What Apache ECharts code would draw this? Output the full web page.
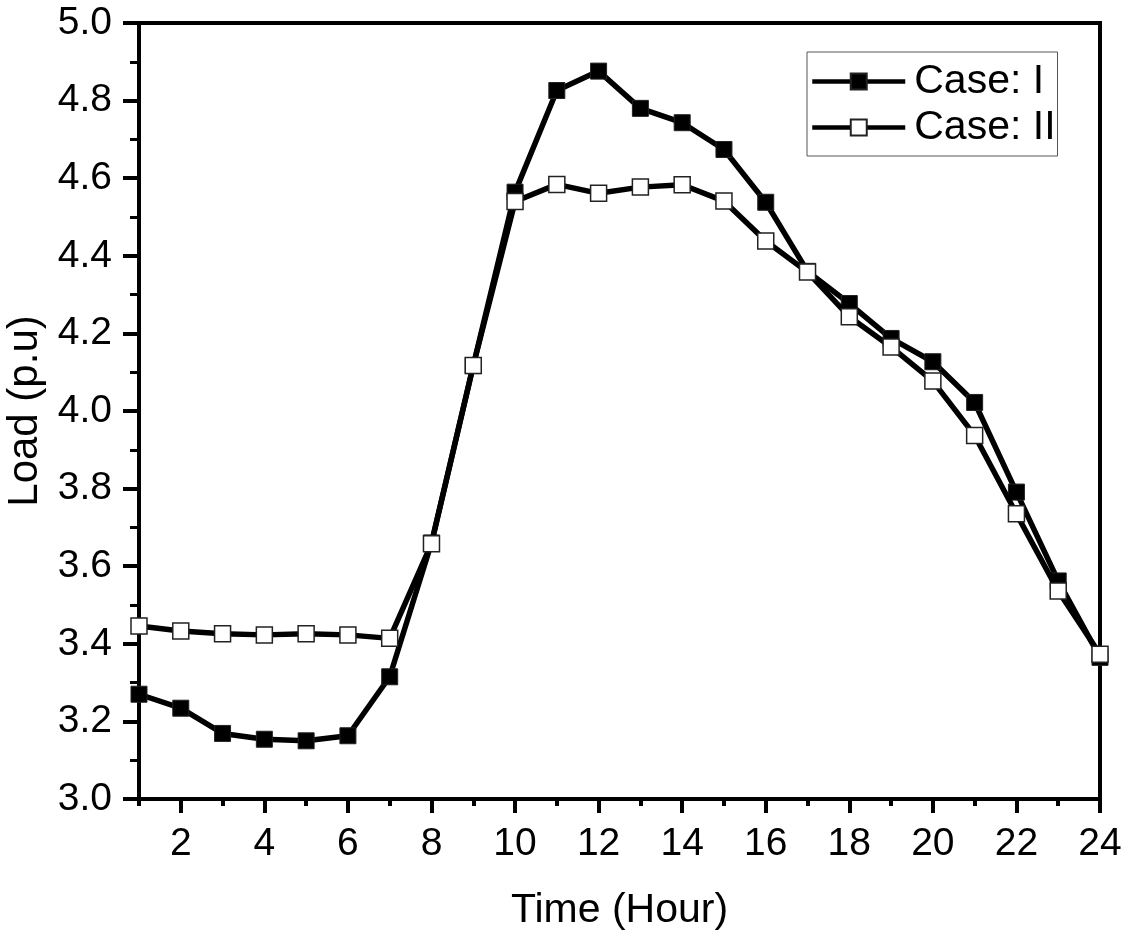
<!DOCTYPE html>
<html>
<head>
<meta charset="utf-8">
<script src="https://cdn.jsdelivr.net/npm/echarts@6/dist/echarts.min.js"></script>
<style>
html,body{margin:0;padding:0;background:#fff;}
#chart{width:1129px;height:931px;}
</style>
</head>
<body>
<div id="chart"></div>
<script>
const hours = [1,2,3,4,5,6,7,8,9,10,11,12,13,14,15,16,17,18,19,20,21,22,23,24];
const caseI = [3.270,3.234,3.169,3.154,3.150,3.163,3.315,3.660,4.117,4.564,4.826,4.876,4.780,4.743,4.674,4.538,4.360,4.277,4.187,4.127,4.022,3.791,3.562,3.365];
const caseII = [3.446,3.433,3.426,3.423,3.426,3.423,3.414,3.658,4.117,4.540,4.584,4.561,4.577,4.583,4.541,4.438,4.358,4.243,4.165,4.077,3.937,3.735,3.536,3.373];
const xMajorTicks = [2,4,6,8,10,12,14,16,18,20,22,24];
const seriesNames = ['Case: I','Case: II'];
const xTitle = 'Time (Hour)';
const yTitle = 'Load (p.u)';

const FONT = "'Liberation Sans', Arial, sans-serif";
const chart = echarts.init(document.getElementById('chart'), null, {renderer:'canvas'});

function pairs(xs, ys){ return xs.map((x,i)=>[x, ys[i]]); }

chart.setOption({
  animation:false,
  backgroundColor:'#fff',
  textStyle:{fontFamily:FONT, color:'#000'},
  grid:{left:139, right:29, top:23, bottom:132, outerBoundsMode:'none', containLabel:false,
        show:true, borderColor:'#000', borderWidth:4, backgroundColor:'transparent'},
  legend:{
    left:807, top:52, orient:'vertical',
    data:seriesNames,
    itemWidth:93, itemHeight:20, itemGap:5,
    padding:[9,2,8,3],
    borderColor:'#555', borderWidth:1,
    lineStyle:{width:4.5},
    textStyle:{fontFamily:FONT, fontSize:41, color:'#000', padding:[0,0,0,4]}
  },
  xAxis:[{
    type:'value', min:1, max:24, interval:1, position:'bottom',
    axisLine:{show:true, lineStyle:{color:'#000', width:4}},
    axisTick:{show:true, length:7, lineStyle:{color:'#000', width:4}},
    axisLabel:{show:false},
    splitLine:{show:false}
  },{
    type:'value', min:1, max:24, position:'bottom',
    axisLine:{show:false},
    axisTick:{show:true, customValues:xMajorTicks, length:14, lineStyle:{color:'#000', width:4}},
    axisLabel:{show:true, customValues:xMajorTicks, fontSize:39, color:'#000', fontFamily:FONT, margin:26},
    splitLine:{show:false},
    name:xTitle, nameLocation:'middle', nameGap:91,
    nameTextStyle:{fontSize:41, color:'#000', fontFamily:FONT}
  }],
  yAxis:{
    type:'value', min:3, max:5, interval:0.2,
    axisLine:{show:true, lineStyle:{color:'#000', width:4}},
    axisTick:{show:true, length:16, lineStyle:{color:'#000', width:4}},
    minorTick:{show:true, splitNumber:2, length:9, lineStyle:{color:'#000', width:3}},
    axisLabel:{fontSize:39, color:'#000', fontFamily:FONT, margin:27, formatter:v=>v.toFixed(1)},
    splitLine:{show:false},
    name:yTitle, nameLocation:'middle', nameGap:91,
    nameTextStyle:{fontSize:42, color:'#000', fontFamily:FONT}
  },
  series:[{
    name:seriesNames[0], type:'line', xAxisIndex:0,
    data:pairs(hours, caseI),
    symbol:'rect', symbolSize:16,
    lineStyle:{color:'#000', width:5.5},
    itemStyle:{color:'#000', borderColor:'#222', borderWidth:1},
    clip:true, z:2
  },{
    name:seriesNames[1], type:'line', xAxisIndex:0,
    data:pairs(hours, caseII),
    symbol:'rect', symbolSize:16,
    lineStyle:{color:'#000', width:5.5},
    itemStyle:{color:'#fff', borderColor:'#222', borderWidth:1.5},
    clip:true, z:3
  }]
});
</script>
</body>
</html>
